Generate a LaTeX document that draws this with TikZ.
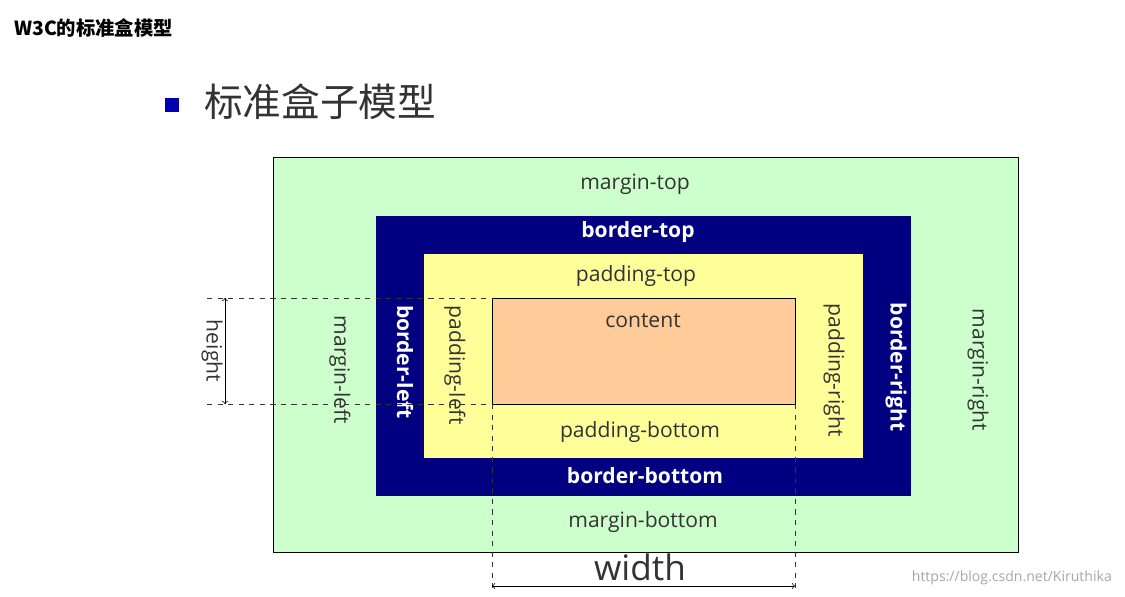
\documentclass[tikz,border=0pt]{standalone}
\usepackage{fontspec}
\setmainfont{Open Sans}
\newfontfamily\cjk{Noto Sans CJK SC}
\definecolor{marginclr}{HTML}{CCFFCC}
\definecolor{borderclr}{HTML}{000080}
\definecolor{paddingclr}{HTML}{FFFF99}
\definecolor{contentclr}{HTML}{FFCC99}
\tikzset{
  lbl/.style={font=\fontsize{12}{14}\selectfont, text=black!80},
  wlbl/.style={font=\fontsize{12}{14}\selectfont\bfseries, text=white},
  vlbl/.style={lbl, rotate=-90},
  vwlbl/.style={wlbl, rotate=-90},
  guide/.style={dashed, black!80}
}
\begin{document}
\begin{tikzpicture}[x=0.02cm,y=-0.02cm]
    \useasboundingbox (0,0) rectangle (1125,596);
    \node[anchor=west, font=\cjk\bfseries\fontsize{11}{13}\selectfont] (title) at (8,28) {W3C的标准盒模型};
    \fill[blue!70!black] (165,98) rectangle (179,112);
    \node[anchor=west, font=\cjk\fontsize{22}{26}\selectfont, text=black!80] (head) at (198,102) {标准盒子模型};
    % nested boxes
    \draw[fill=marginclr] (273,157) rectangle (1018,552);
    \fill[borderclr] (376,216) rectangle (911,496);
    \fill[paddingclr] (424,254) rectangle (863,458);
    \draw[fill=contentclr] (492,298) coordinate (ctl) rectangle (795,404) coordinate (cbr);
    % labels
    \node[lbl] (mt) at (635,184) {margin-top};
    \node[wlbl] (bt) at (638,232) {border-top};
    \node[lbl] (pt) at (636,276) {padding-top};
    \node[lbl] (ct) at (643,321) {content};
    \node[lbl] (pb) at (640,432) {padding-bottom};
    \node[wlbl] (bb) at (645,476) {border-bottom};
    \node[lbl] (mb) at (643,522) {margin-bottom};
    \node[vlbl] (ml) at (340,370) {margin-left};
    \node[vwlbl] (bl) at (405,362) {border-left};
    \node[vlbl] (pl) at (455,365) {padding-left};
    \node[vlbl] (pr) at (834,370) {padding-right};
    \node[vwlbl] (br) at (896,367) {border-right};
    \node[vlbl] (mr) at (978,370) {margin-right};
    % dimension guides
    \coordinate (h1) at (207,298);
    \coordinate (h2) at (207,404);
    \coordinate (w1) at (492,592);
    \coordinate (w2) at (795,592);
    \draw[guide] (h1) -- (ctl);
    \draw[guide] (h2) -- (ctl |- cbr);
    \draw[guide] (ctl |- cbr) -- (w1);
    \draw[guide] (cbr) -- (w2);
    \coordinate (ha) at (225,298);
    \coordinate (hb) at (225,404);
    \draw[->] (ha) -- (hb);
    \draw[<-] (ha) -- (hb);
    \node[lbl, rotate=-90] (hl) at (212,351) {height};
    \coordinate (wa) at (492,586);
    \coordinate (wb) at (795,586);
    \draw[<->] (wa) -- (wb);
    \node[font=\fontsize{20}{24}\selectfont, text=black!80] (wl) at (640,567) {width};
    \node[anchor=east, font=\fontsize{8}{10}\selectfont, text=black!35] (wm) at (1118,578) {https://blog.csdn.net/Kiruthika};
\end{tikzpicture}
\end{document}
